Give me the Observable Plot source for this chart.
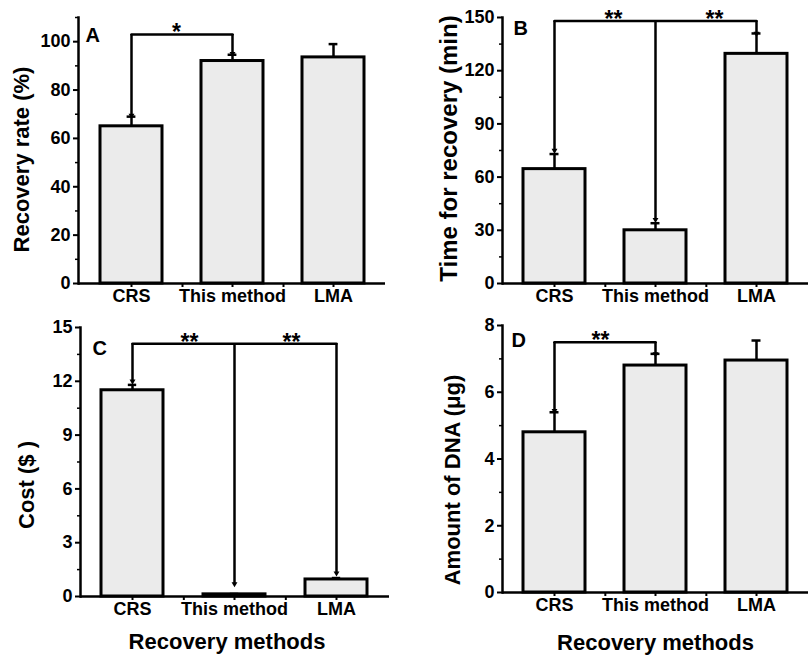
<!DOCTYPE html>
<html><head><meta charset="utf-8">
<script src="https://cdn.jsdelivr.net/npm/d3@7"></script>
<script src="https://cdn.jsdelivr.net/npm/@observablehq/plot@0.6"></script>
<style>
body{margin:0;background:#fff;}
#chart{position:relative;width:808px;height:655px;overflow:hidden;}
#chart svg{position:absolute;}
</style></head><body><div id="chart"></div>
<script>
// ---- data ----
const methods = ["CRS", "This method", "LMA"];

const recoveryRate    = [65, 92, 93.5];
const recoveryRateErr = [4, 2.6, 5.5];
const recoveryTime    = [64.5, 30, 129.5];
const recoveryTimeErr = [8.5, 4, 11.5];
const cost            = [11.5, 0.12, 0.95];
const costErr         = [0.3, 0.02, 0.08];
const dnaAmount       = [4.8, 6.8, 6.95];
const dnaAmountErr    = [0.6, 0.35, 0.6];

const ticksA = [0, 20, 40, 60, 80, 100];
const minorA = [10, 30, 50, 70, 90, 110];
const ticksB = [0, 30, 60, 90, 120, 150];
const minorB = [15, 45, 75, 105, 135];
const ticksC = [0, 3, 6, 9, 12, 15];
const minorC = [1.5, 4.5, 7.5, 10.5, 13.5];
const ticksD = [0, 2, 4, 6, 8];
const minorD = [1, 3, 5, 7];

// significance brackets: leg bottoms and top of bracket
const bracketLegsA = [{method: "CRS", y: 69.5}, {method: "This method", y: 95}];
const bracketTopA = 103;
const bracketLegsB = [{method: "CRS", y: 75}, {method: "This method", y: 36}, {method: "LMA", y: 141}];
const bracketTopB = 148;
const bracketLegsC = [{method: "CRS", y: 12}, {method: "This method", y: 0.7}, {method: "LMA", y: 1.3}];
const bracketTopC = 14.1;
const bracketLegsD = [{method: "CRS", y: 5.45}, {method: "This method", y: 7.15}];
const bracketTopD = 7.5;

const starsA = [{method: "CRS", label: "*"}];
const starsB = [{method: "CRS", label: "**"}, {method: "This method", label: "**"}];
const starsC = [{method: "CRS", label: "**"}, {method: "This method", label: "**"}];
const starsD = [{method: "CRS", label: "**"}];

const yTitles = ["Recovery rate (%)", "Time for recovery (min)", "Cost ($ )", "Amount of DNA (\u03bcg)"];
const panelLetters = ["A", "B", "C", "D"];
const xTitle = "Recovery methods";

// ---- drawing ----
const FONT = "'Liberation Sans', Arial, Helvetica, sans-serif";
const PI = 0.39, PO = 0.2;

function panel(cfg) {
  const rows = methods.map((m, i) => ({method: m, value: cfg.values[i], err: cfg.errs[i]}));
  const innerW = cfg.width - cfg.mL - cfg.mR;
  const step = innerW / (methods.length - PI + 2 * PO);
  const bw = step * (1 - PI);
  const capInset = (bw - 9) / 2;
  const legs = cfg.legs;
  const top = cfg.top;
  const marks = [
    Plot.barY(rows, {x: "method", y: "value", fill: "#ebebeb", stroke: "black", strokeWidth: 3}),
    Plot.ruleX(rows, {x: "method", y1: "value", y2: d => d.value + d.err, strokeWidth: 2.5}),
    Plot.tickY(rows, {x: "method", y: d => d.value + d.err, insetLeft: capInset, insetRight: capInset, strokeWidth: 2.5}),
    Plot.line([{method: legs[0].method, y: top}, {method: legs[legs.length - 1].method, y: top}], {x: "method", y: "y", strokeWidth: 2.5}),
    Plot.ruleX(legs, {x: "method", y1: "y", y2: () => top, strokeWidth: 2.5}),
    Plot.dot(legs, {x: "method", y: "y", symbol: "triangle", rotate: 180, r: 2.2, fill: "black", stroke: null}),
    Plot.text(cfg.stars, {x: "method", y: () => top, text: "label", dx: cfg.starDx, dy: 6, lineAnchor: "bottom", fontSize: 23, fontWeight: "bold"}),
    Plot.ruleY([0], {strokeWidth: 2.5}),
    Plot.frame({anchor: "left", strokeWidth: 2.5}),
    Plot.axisY({ticks: cfg.ticks, tickSize: 5, tickPadding: 3, label: null, fontSize: 18, fontWeight: "bold", strokeWidth: 2}),
    Plot.axisY({ticks: cfg.minor, tickSize: 3, tickFormat: () => "", label: null, strokeWidth: 1.5}),
    Plot.axisX({tickSize: 4, tickPadding: 2, label: null, fontSize: 18, fontWeight: "bold", strokeWidth: 2}),
    Plot.axisX({ticks: methods.slice(0, -1), dx: step / 2, tickSize: 4, tickFormat: () => "", label: null, strokeWidth: 2}),
    Plot.text([cfg.letter], {text: d => d, frameAnchor: "top-left", textAnchor: "start", lineAnchor: "top", dx: cfg.letterDx, dy: cfg.letterDy, fontSize: 20, fontWeight: "bold"}),
    Plot.text([cfg.yTitle], {text: d => d, frameAnchor: "left", rotate: -90, textAnchor: "middle", lineAnchor: "top", dx: cfg.titleDx, dy: cfg.titleDy, fontSize: cfg.titleSize, fontWeight: "bold"})
  ];
  if (cfg.xTitle) {
    marks.push(Plot.text([cfg.xTitle], {text: d => d, frameAnchor: "bottom", lineAnchor: "top", dx: cfg.xTitleDx, dy: cfg.xTitleDy, fontSize: 22, fontWeight: "bold"}));
  }
  const svg = Plot.plot({
    width: cfg.width, height: cfg.height,
    marginLeft: cfg.mL, marginRight: cfg.mR, marginTop: cfg.mT, marginBottom: cfg.mB,
    style: {fontFamily: FONT, color: "black", background: "transparent", overflow: "visible"},
    x: {domain: methods, paddingInner: PI, paddingOuter: PO, axis: null},
    y: {domain: cfg.yDomain, axis: null},
    marks
  });
  svg.style.left = cfg.left + "px";
  svg.style.top = cfg.topPx + "px";
  document.getElementById("chart").appendChild(svg);
}

panel({values: recoveryRate, errs: recoveryRateErr, yDomain: [0, 110], ticks: ticksA, minor: minorA,
  legs: bracketLegsA, top: bracketTopA, stars: starsA, starDx: 45,
  letter: panelLetters[0], letterDx: 7, letterDy: 10, yTitle: yTitles[0], titleSize: 22, titleDx: -65, titleDy: 9,
  left: 0, topPx: 0, width: 404, height: 310, mL: 78, mR: 19, mT: 17, mB: 27});

panel({values: recoveryTime, errs: recoveryTimeErr, yDomain: [0, 150], ticks: ticksB, minor: minorB,
  legs: bracketLegsB, top: bracketTopB, stars: starsB, starDx: 59,
  letter: panelLetters[1], letterDx: 11, letterDy: 3, yTitle: yTitles[1], titleSize: 24, titleDx: -63, titleDy: -2,
  left: 404, topPx: 0, width: 404, height: 310, mL: 98, mR: 0, mT: 17, mB: 27});

panel({values: cost, errs: costErr, yDomain: [0, 15], ticks: ticksC, minor: minorC,
  legs: bracketLegsC, top: bracketTopC, stars: starsC, starDx: 57,
  letter: panelLetters[2], letterDx: 12, letterDy: 13, yTitle: yTitles[2], titleSize: 22, titleDx: -62, titleDy: 23,
  xTitle: xTitle, xTitleDx: -8, xTitleDy: 37,
  left: 0, topPx: 310, width: 404, height: 345, mL: 80, mR: 15, mT: 17, mB: 59});

panel({values: dnaAmount, errs: dnaAmountErr, yDomain: [0, 8], ticks: ticksD, minor: minorD,
  legs: bracketLegsD, top: bracketTopD, stars: starsD, starDx: 46,
  letter: panelLetters[3], letterDx: 9, letterDy: 7, yTitle: yTitles[3], titleSize: 22, titleDx: -58, titleDy: 21,
  xTitle: xTitle, xTitleDx: 0, xTitleDy: 42,
  left: 404, topPx: 310, width: 404, height: 345, mL: 98, mR: 0, mT: 15, mB: 63});
</script>
</body></html>
